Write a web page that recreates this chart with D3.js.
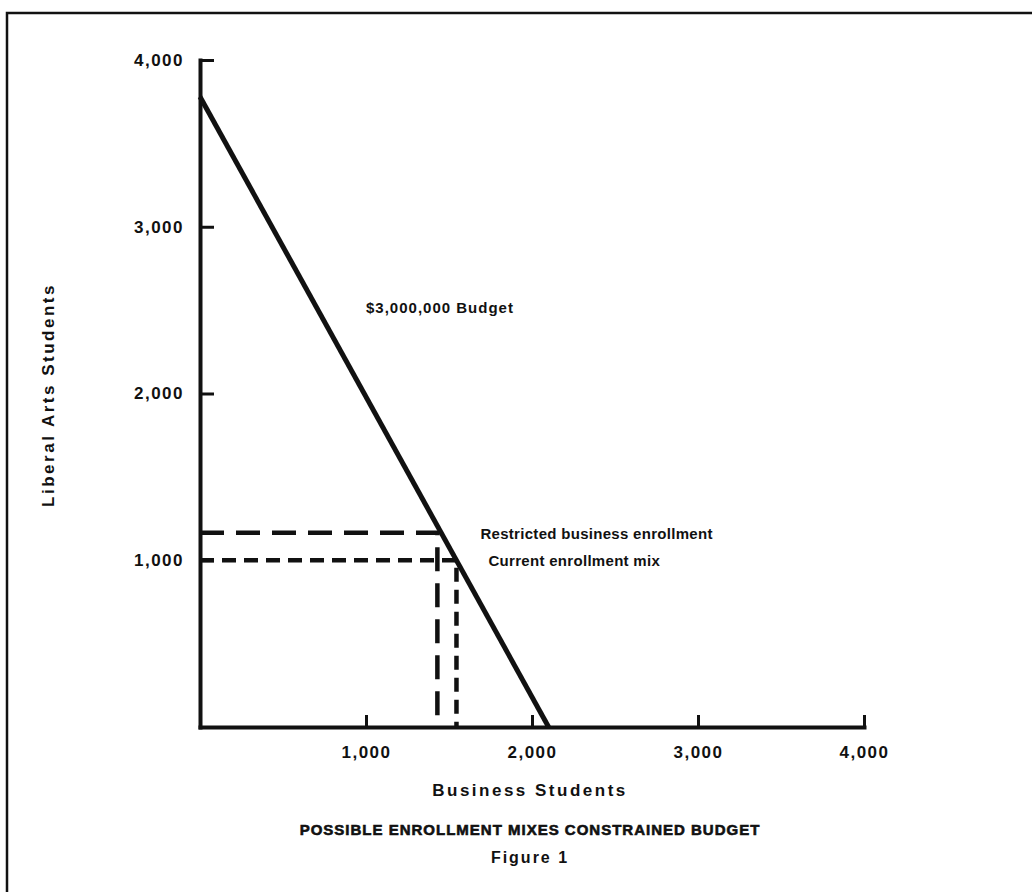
<!DOCTYPE html>
<html>
<head>
<meta charset="utf-8">
<script src="https://cdn.jsdelivr.net/npm/d3@7"></script>
<style>
  html, body { margin: 0; padding: 0; background: #fff; }
  svg { display: block; }
  text { font-family: "Liberation Sans", Arial, sans-serif; font-weight: bold; fill: #111; }
  .axis .domain { stroke: #111; stroke-width: 4; stroke-linecap: square; }
  .axis .tick line { stroke: #111; stroke-width: 3; }
  .axis .tick text { font-size: 17px; letter-spacing: 1.5px; }
</style>
</head>
<body>
<svg id="chart" width="1032" height="892"></svg>
<script>
'use strict';

// values
var xTicks = [1000, 2000, 3000, 4000];
var yTicks = [1000, 2000, 3000, 4000];
var budgetBusiness = [0, 2100];
var budgetLiberal = [3780, 0];
var budgetLabel = '$3,000,000 Budget';
var mixNames = ['Restricted business enrollment', 'Current enrollment mix'];
var mixBusiness = [1430, 1545];
var mixLiberal = [1165, 1000];

var width = 1032,
    height = 892,
    margin = {top: 60, right: 168, bottom: 165, left: 200};

var svg = d3.select('#chart');

// page border (scan frame)
svg.append('path')
  .attr('d', 'M7,' + height + 'V13H' + width)
  .attr('fill', 'none')
  .attr('stroke', '#111')
  .attr('stroke-width', 2.5);

var x = d3.scaleLinear()
    .domain([0, 4000])
    .range([margin.left, width - margin.right]);

var y = d3.scaleLinear()
    .domain([0, 4000])
    .range([height - margin.bottom, margin.top]);

var fmt = d3.format(',');

svg.append('g')
  .attr('class', 'axis')
  .attr('transform', 'translate(0,' + y(0) + ')')
  .call(d3.axisBottom(x).tickValues(xTicks).tickFormat(fmt)
    .tickSize(-12).tickSizeOuter(0).tickPadding(19));

svg.append('g')
  .attr('class', 'axis')
  .attr('transform', 'translate(' + x(0) + ',0)')
  .call(d3.axisLeft(y).tickValues(yTicks).tickFormat(fmt)
    .tickSize(-14).tickSizeOuter(0).tickPadding(16));

// budget constraint line
var line = d3.line()
    .x(function(d) { return x(d[0]); })
    .y(function(d) { return y(d[1]); });

svg.append('path')
  .datum(d3.zip(budgetBusiness, budgetLiberal))
  .attr('d', line)
  .attr('fill', 'none')
  .attr('stroke', '#111')
  .attr('stroke-width', 5);

svg.append('text')
  .attr('x', x(1000))
  .attr('y', y(2500) + 3)
  .attr('font-size', 15)
  .attr('letter-spacing', 1)
  .text(budgetLabel);

// enrollment mixes: dashed drop lines to both axes
var dashes = ['24,12', '14,8'];
var labelShift = [43, 32];

mixNames.forEach(function(name, i) {
  var pts = [[0, mixLiberal[i]], [mixBusiness[i], mixLiberal[i]], [mixBusiness[i], 0]];

  svg.append('path')
    .datum(pts)
    .attr('d', line)
    .attr('fill', 'none')
    .attr('stroke', '#111')
    .attr('stroke-width', 4.5)
    .attr('stroke-dasharray', dashes[i]);

  svg.append('text')
    .attr('x', x(mixBusiness[i]) + labelShift[i])
    .attr('y', y(mixLiberal[i]) + 6)
    .attr('font-size', 15)
    .attr('letter-spacing', 0.3)
    .text(name);
});

// axis titles and caption
svg.append('text')
  .attr('x', 530)
  .attr('y', 796)
  .attr('text-anchor', 'middle')
  .attr('font-size', 17)
  .attr('letter-spacing', 2.5)
  .text('Business Students');

svg.append('text')
  .attr('transform', 'translate(54,395) rotate(-90)')
  .attr('text-anchor', 'middle')
  .attr('font-size', 17)
  .attr('letter-spacing', 2.5)
  .text('Liberal Arts Students');

svg.append('text')
  .attr('x', 530)
  .attr('y', 835)
  .attr('text-anchor', 'middle')
  .attr('font-size', 15)
  .attr('letter-spacing', 1)
  .attr('stroke', '#111')
  .attr('stroke-width', 0.6)
  .text('POSSIBLE ENROLLMENT MIXES CONSTRAINED BUDGET');

svg.append('text')
  .attr('x', 530)
  .attr('y', 863)
  .attr('text-anchor', 'middle')
  .attr('font-size', 16)
  .attr('letter-spacing', 2)
  .text('Figure 1');
</script>
</body>
</html>
